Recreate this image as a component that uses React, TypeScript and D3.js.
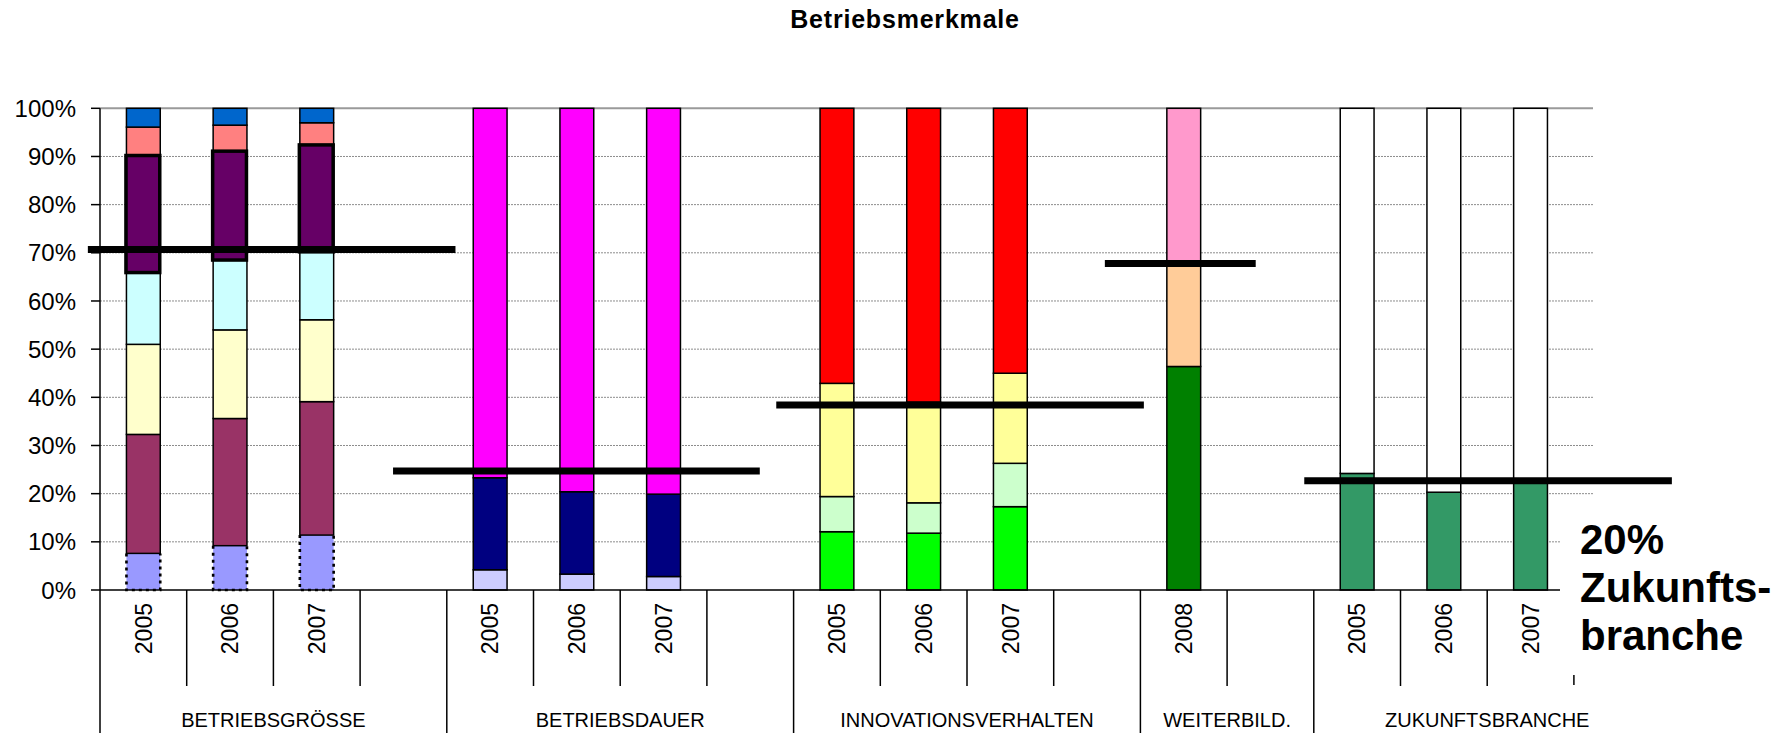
import React from "react";
import * as d3 from "d3";

// Category axis: groups and their year slots (blank slot = spacer column)
const groups = ["BETRIEBSGRÖSSE", "BETRIEBSDAUER", "INNOVATIONSVERHALTEN", "WEITERBILD.", "ZUKUNFTSBRANCHE"];
const groupYears = [
  ["2005", "2006", "2007", ""],
  ["2005", "2006", "2007", ""],
  ["2005", "2006", "2007", ""],
  ["2008", ""],
  ["2005", "2006", "2007", ""],
];

// Segment colours per group (bottom to top)
const groessePalette = ["#9999FF", "#993366", "#FFFFCC", "#CCFFFF", "#660066", "#FF8080", "#0066CC"];
const dauerPalette = ["#CCCCFF", "#000080", "#FF00FF"];
const innovationPalette = ["#00FF00", "#CCFFCC", "#FFFF99", "#FF0000"];
const weiterbildungPalette = ["#008000", "#FFCC99", "#FF99CC"];
const zukunftPalette = ["#339966", "#FFFFFF"];

// Shares in percent, one array per year (bottom to top)
const groesseShares = [
  [7.6, 24.7, 18.7, 14.9, 24.3, 5.9, 3.9],
  [9.2, 26.4, 18.4, 14.5, 22.6, 5.4, 3.5],
  [11.4, 27.7, 17.0, 14.1, 22.2, 4.6, 3.0],
];
const dauerShares = [
  [4.2, 19.1, 76.7],
  [3.3, 17.1, 79.6],
  [2.8, 17.1, 80.1],
];
const innovationShares = [
  [12.1, 7.3, 23.5, 57.1],
  [11.8, 6.3, 20.9, 61.0],
  [17.3, 9.0, 18.7, 55.0],
];
const weiterbildungShares = [[46.4, 21.6, 32.0]];
const zukunftShares = [
  [24.2, 75.8],
  [20.3, 79.7],
  [22.6, 77.4],
];

// Reference levels per group, with their span in category units
const referenceValues = [70.7, 24.7, 38.4, 67.8, 22.7];
const referenceFrom = [-0.14, 3.38, 7.8, 11.59, 13.89];
const referenceTo = [4.1, 7.61, 12.04, 13.33, 18.13];

const yTicks = [0, 10, 20, 30, 40, 50, 60, 70, 80, 90, 100];
const noteLines = ["20%", "Zukunfts-", "branche"];

const palettes = [groessePalette, dauerPalette, innovationPalette, weiterbildungPalette, zukunftPalette];
const shares = [groesseShares, dauerShares, innovationShares, weiterbildungShares, zukunftShares];

const W = 1787;
const H = 733;
const left = 100;
const catStep = 86.7;
const plotRight = 1593;
const top = 108.3;
const bottom = 590;
const FONT = "'Liberation Sans', Arial, Helvetica, sans-serif";

type Cat = { key: string; group: number; year: string; values: number[] | null };

const cats: Cat[] = [];
groups.forEach((g, gi) => {
  let k = 0;
  groupYears[gi].forEach((yr, i) => {
    const values = yr ? shares[gi][k++] : null;
    cats.push({ key: `${gi}-${i}`, group: gi, year: yr, values });
  });
});

export default function App() {
  const catRight = left + cats.length * catStep;
  const x = d3.scaleBand<string>().domain(cats.map((c) => c.key)).range([left, catRight]).padding(0);
  const u = d3.scaleLinear().domain([0, cats.length]).range([left, catRight]);
  const y = d3.scaleLinear().domain([0, 100]).range([bottom, top]);
  const bw = x.bandwidth();
  const barW = bw * 0.39;
  const lastVisible = u.invert(plotRight);

  // group boundaries in category index units
  const groupStarts: number[] = [];
  let acc = 0;
  groupYears.forEach((g) => {
    groupStarts.push(acc);
    acc += g.length;
  });
  groupStarts.push(acc);

  const segs: { x: number; y0: number; y1: number; fill: string; kind: string; key: string }[] = [];
  cats.forEach((c) => {
    if (!c.values) return;
    const stack = d3.cumsum(c.values);
    const bx = (x(c.key) as number) + (bw - barW) / 2;
    c.values.forEach((v, i) => {
      const fill = palettes[c.group][i];
      const kind = fill === "#660066" ? "bold" : fill === "#9999FF" ? "dotted" : "plain";
      segs.push({ x: bx, y0: stack[i] - v, y1: stack[i], fill, kind, key: `${c.key}-${i}` });
    });
  });

  return (
    <svg
      width={W}
      height={H}
      viewBox={`0 0 ${W} ${H}`}
      style={{ position: "absolute", left: 0, top: 0, background: "#fff" }}
      fontFamily={FONT}
    >
      <rect x={0} y={0} width={W} height={H} fill="#fff" />
      <text x={905} y={28} textAnchor="middle" fontSize={25} fontWeight="bold" letterSpacing={0.8} fill="#000">
        Betriebsmerkmale
      </text>

      {/* gridlines */}
      {yTicks.filter((t) => t > 0).map((t) => (
        <line
          key={`g${t}`}
          x1={left}
          x2={plotRight}
          y1={y(t)}
          y2={y(t)}
          stroke={t === 100 ? "#9a9a9a" : "#8c8c8c"}
          strokeWidth={t === 100 ? 2 : 1}
          strokeDasharray={t === 100 ? undefined : "2,1"}
        />
      ))}

      {/* y axis */}
      <line x1={left} x2={left} y1={top} y2={bottom} stroke="#000" strokeWidth={1.5} />
      {yTicks.map((t) => (
        <g key={`t${t}`}>
          <line x1={left - 9} x2={left} y1={y(t)} y2={y(t)} stroke="#000" strokeWidth={1.5} />
          <text x={76} y={y(t)} dy="0.36em" textAnchor="end" fontSize={24} fill="#000">
            {`${t}%`}
          </text>
        </g>
      ))}

      {/* bars */}
      {segs.map((s) => (
        <rect
          key={s.key}
          x={s.x}
          y={y(s.y1)}
          width={barW}
          height={y(s.y0) - y(s.y1)}
          fill={s.fill}
          stroke={s.kind === "dotted" ? "none" : "#000"}
          strokeWidth={1.5}
        />
      ))}
      {segs.filter((s) => s.kind === "dotted").map((s) => (
        <path
          key={`d${s.key}`}
          d={`M${s.x},${y(s.y1)}V${y(s.y0)}H${s.x + barW}V${y(s.y1)}`}
          fill="none"
          stroke="#000"
          strokeWidth={2.6}
          strokeDasharray="3,4"
        />
      ))}
      {segs.filter((s) => s.kind === "bold").map((s) => (
        <rect
          key={`b${s.key}`}
          x={s.x - 0.5}
          y={y(s.y1)}
          width={barW}
          height={y(s.y0) - y(s.y1)}
          fill="none"
          stroke="#000"
          strokeWidth={3.5}
        />
      ))}

      {/* x axis */}
      <line x1={left} x2={plotRight} y1={bottom} y2={bottom} stroke="#000" strokeWidth={1.5} />
      {d3.range(cats.length + 1).filter((i) => i <= lastVisible).map((i) => {
        const isGroup = groupStarts.includes(i);
        const edge = i + 1 > lastVisible;
        return (
          <line
            key={`c${i}`}
            x1={u(i)}
            x2={u(i)}
            y1={bottom}
            y2={edge ? 685 : isGroup ? H : 686}
            stroke="#000"
            strokeWidth={1.5}
          />
        );
      })}
      {cats.filter((c) => c.year).map((c) => {
        const cx = (x(c.key) as number) + bw / 2;
        return (
          <text
            key={`y${c.key}`}
            transform={`translate(${cx},603) rotate(-90)`}
            dy="0.36em"
            textAnchor="end"
            fontSize={23}
            fill="#000"
          >
            {c.year}
          </text>
        );
      })}
      {groups.map((g, gi) => (
        <text
          key={`n${gi}`}
          x={(u(groupStarts[gi]) + u(groupStarts[gi + 1])) / 2}
          y={726.5}
          textAnchor="middle"
          fontSize={20}
          fill="#000"
        >
          {g}
        </text>
      ))}

      {/* reference levels */}
      {referenceValues.map((v, i) => (
        <line
          key={`r${i}`}
          x1={u(referenceFrom[i])}
          x2={u(referenceTo[i])}
          y1={y(v)}
          y2={y(v)}
          stroke="#000"
          strokeWidth={7}
        />
      ))}

      {/* note box */}
      <rect x={1560} y={498} width={W - 1560} height={177} fill="#fff" />
      {noteLines.map((t, i) => (
        <text key={`l${i}`} x={1580} y={554 + i * 48} fontSize={42} fontWeight="bold" fill="#000">
          {t}
        </text>
      ))}
    </svg>
  );
}
